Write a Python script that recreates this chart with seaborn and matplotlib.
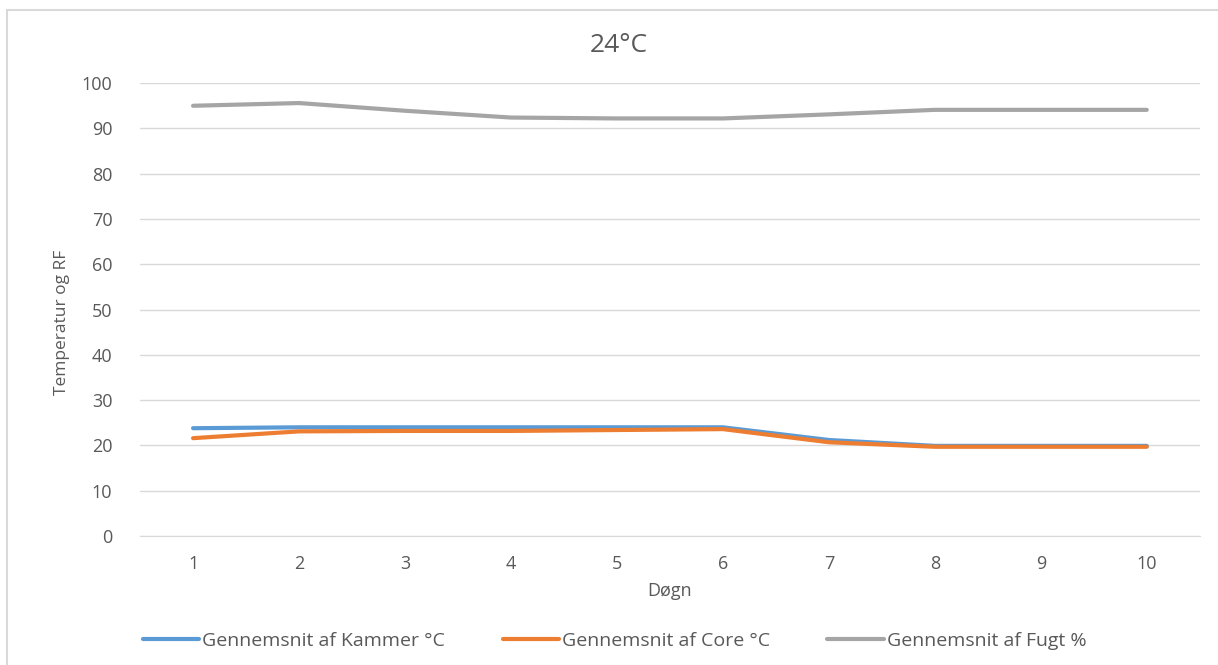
import pandas as pd
import matplotlib.pyplot as plt
import matplotlib.patches as mpatches
import seaborn as sns

days = [1, 2, 3, 4, 5, 6, 7, 8, 9, 10]
kammer = [23.8, 24.0, 24.0, 24.0, 24.0, 24.0, 21.2, 19.9, 19.9, 19.9]
core = [21.6, 23.1, 23.2, 23.2, 23.4, 23.6, 20.7, 19.7, 19.7, 19.7]
fugt = [95.0, 95.6, 93.9, 92.4, 92.2, 92.2, 93.1, 94.1, 94.1, 94.1]
series_names = ["Gennemsnit af Kammer °C", "Gennemsnit af Core °C", "Gennemsnit af Fugt %"]
colors = ["#5B9BD5", "#ED7D31", "#A5A5A5"]

df = pd.DataFrame({"Døgn": days * 3,
                   "value": kammer + core + fugt,
                   "serie": [s for s in series_names for _ in days]})

sns.set_style("white")
plt.rcParams['font.family'] = ['Open Sans', 'DejaVu Sans']
txt = "#595959"

fig = plt.figure(figsize=(12.18, 6.65), dpi=100)
ax = fig.add_axes([0.115, 0.194, 0.87, 0.681])

sns.lineplot(data=df, x="Døgn", y="value", hue="serie", palette=colors,
             hue_order=series_names, linewidth=3, ax=ax, legend=False,
             solid_capstyle="round", clip_on=False)

ax.set_xlim(0.5, 10.5)
ax.set_ylim(0, 100)
ax.set_xticks(days)
ax.set_yticks(range(0, 101, 10))
ax.grid(axis="y", color="#D9D9D9", linewidth=1)
ax.set_axisbelow(True)
for s in ["top", "right", "left"]:
    ax.spines[s].set_visible(False)
ax.spines["bottom"].set_color("#D9D9D9")
ax.tick_params(axis="both", colors=txt, labelsize=13, length=0)
ax.tick_params(axis="y", pad=20)
ax.tick_params(axis="x", pad=14)
ax.set_xlabel("Døgn", color=txt, fontsize=13, labelpad=6)
ax.set_ylabel("Temperatur og RF", color=txt, fontsize=12.5)
ax.yaxis.set_label_coords(-0.066, 0.472)
fig.text(0.508, 0.932, "24°C", color=txt, fontsize=19, ha="center", va="center")

handles = [plt.Line2D([], [], color=c, linewidth=3, solid_capstyle="round") for c in colors]
fig.legend(handles, series_names, loc="center left", bbox_to_anchor=(0.1174, 0.036),
           ncol=3, frameon=False, fontsize=14, labelcolor=txt,
           handlelength=2.9, handletextpad=0.15, columnspacing=2.95,
           borderpad=0, borderaxespad=0)

fig.patches.append(mpatches.Rectangle((7 / 1218, -0.1), 1.1, 1.1 - 10 / 665,
                                      transform=fig.transFigure, fill=False,
                                      edgecolor="#D9D9D9", linewidth=1.5))

fig.savefig("out.png", dpi=100)
